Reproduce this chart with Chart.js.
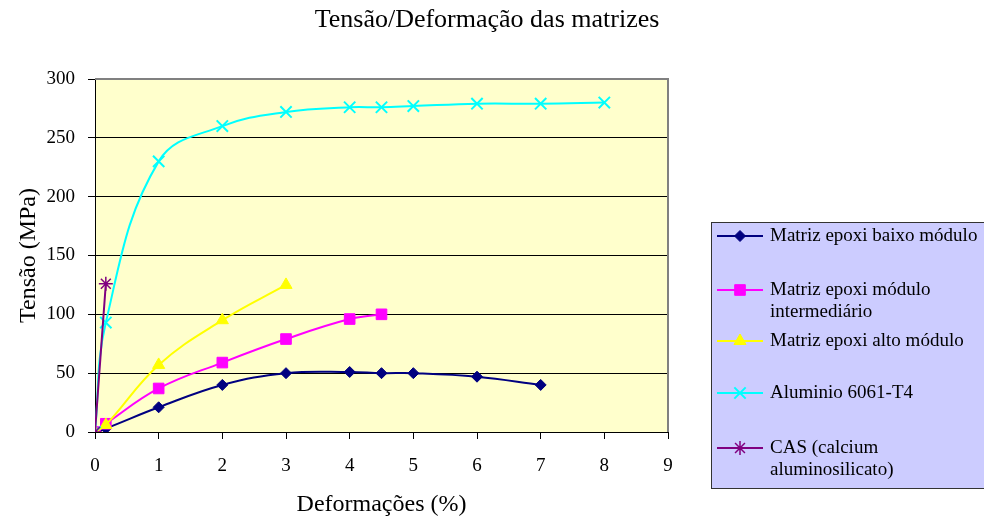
<!DOCTYPE html>
<html>
<head>
<meta charset="utf-8">
<script src="https://cdn.jsdelivr.net/npm/chart.js@4/dist/chart.umd.min.js"></script>
<style>
  html, body { margin: 0; padding: 0; background: #fff; }
  #wrap { width: 984px; height: 519px; position: relative; }
</style>
</head>
<body>
<div id="wrap"><canvas id="chart" width="984" height="519"></canvas></div>
<script>
const serif = "'Liberation Serif', 'Times New Roman', serif";

// data
const baixoX = [0, 0.17, 1, 2, 3, 4, 4.5, 5, 6, 7];
const baixoY = [0, 3, 21, 40, 50, 51, 50, 50, 47, 40];
const interX = [0, 0.17, 1, 2, 3, 4, 4.5];
const interY = [0, 7, 37, 59, 79, 96, 100];
const altoX = [0, 0.17, 1, 2, 3];
const altoY = [0, 6, 57, 95, 125];
const aluX = [0, 0.17, 1, 2, 3, 4, 4.5, 5, 6, 7, 8];
const aluY = [0, 93, 230, 260, 272, 276, 276, 277, 279, 279, 280];
const casX = [0, 0.17];
const casY = [0, 126];

const seriesNames = [
  ['Matriz epoxi baixo módulo'],
  ['Matriz epoxi módulo', 'intermediário'],
  ['Matriz epoxi alto módulo'],
  ['Aluminio 6061-T4'],
  ['CAS (calcium', 'aluminosilicato)']
];
const xTicks = [0, 1, 2, 3, 4, 5, 6, 7, 8, 9];
const yTicks = [0, 50, 100, 150, 200, 250, 300];

const toPts = (xs, ys) => xs.map((x, i) => ({ x: x, y: ys[i] }));

const styles = [
  { color: '#000080', style: 'rectRot', r: 5.5, bw: 1 },
  { color: '#FF00FF', style: 'rect', r: 7.5, bw: 1 },
  { color: '#FFFF00', style: 'triangle', r: 7, bw: 1 },
  { color: '#00FFFF', style: 'crossRot', r: 8, bw: 2 },
  { color: '#800080', style: 'star', r: 7, bw: 1.5 }
];
const allData = [toPts(baixoX, baixoY), toPts(interX, interY), toPts(altoX, altoY), toPts(aluX, aluY), toPts(casX, casY)];

const datasets = allData.map((d, i) => ({
  label: seriesNames[i].join(' '),
  data: d,
  borderColor: styles[i].color,
  backgroundColor: styles[i].color,
  borderWidth: 2,
  tension: 0.4,
  pointStyle: styles[i].style,
  pointRadius: styles[i].r,
  pointBorderWidth: styles[i].bw,
  pointBackgroundColor: styles[i].color,
  pointBorderColor: styles[i].color,
  order: 4 - i
}));

const decor = {
  id: 'decor',
  beforeDraw(chart) {
    const { ctx, chartArea: a } = chart;
    ctx.save();
    ctx.fillStyle = '#FFFFCC';
    ctx.fillRect(a.left, a.top, a.right - a.left, a.bottom - a.top);
    ctx.restore();
  },
  afterDraw(chart) {
    const { ctx, chartArea: a } = chart;
    ctx.save();
    // plot frame top/right
    ctx.strokeStyle = '#808080';
    ctx.lineWidth = 2;
    ctx.beginPath();
    ctx.moveTo(a.left, a.top);
    ctx.lineTo(a.right, a.top);
    ctx.lineTo(a.right, a.bottom);
    ctx.stroke();

    // title
    ctx.fillStyle = '#000';
    ctx.font = '26px ' + serif;
    ctx.textAlign = 'center';
    ctx.textBaseline = 'middle';
    ctx.fillText('Tensão/Deformação das matrizes', 487, 20);

    // legend
    ctx.fillStyle = '#CCCCFF';
    ctx.fillRect(711.5, 222.5, 300, 266);
    ctx.strokeStyle = '#333';
    ctx.lineWidth = 1;
    ctx.strokeRect(711.5, 222.5, 300, 266);
    const rows = [236, 290, 341, 393, 448];
    ctx.font = '19px ' + serif;
    ctx.textAlign = 'left';
    rows.forEach((y, i) => {
      const s = styles[i];
      ctx.strokeStyle = s.color;
      ctx.lineWidth = 2;
      ctx.beginPath();
      ctx.moveTo(717, y);
      ctx.lineTo(763, y);
      ctx.stroke();
      ctx.fillStyle = s.color;
      ctx.lineWidth = s.bw;
      if (Chart.helpers && Chart.helpers.drawPoint) {
        Chart.helpers.drawPoint(ctx, { pointStyle: s.style, radius: s.r, borderWidth: s.bw, rotation: 0 }, 740, y);
      }
      ctx.fillStyle = '#000';
      seriesNames[i].forEach((t, j) => ctx.fillText(t, 770, y + j * 22));
    });
    ctx.restore();
  }
};

new Chart(document.getElementById('chart'), {
  type: 'line',
  data: { datasets: datasets },
  plugins: [decor],
  options: {
    responsive: false,
    animation: false,
    layout: { padding: { left: 0, right: 316, top: 79, bottom: 0 } },
    plugins: {
      legend: { display: false },
      title: { display: false },
      tooltip: { enabled: false }
    },
    scales: {
      x: {
        type: 'linear',
        min: 0,
        max: 9,
        afterFit: s => { s.height = 87; },
        afterBuildTicks: s => { s.ticks = xTicks.map(v => ({ value: v })); },
        ticks: { color: '#000', font: { family: serif, size: 19 }, padding: 16 },
        grid: { drawOnChartArea: false, drawTicks: true, tickLength: 7, tickColor: '#000' },
        border: { color: '#000', width: 1 },
        title: { display: true, text: 'Deformações (%)', color: '#000', font: { family: serif, size: 24 }, padding: { top: 0, bottom: 0 } }
      },
      y: {
        min: 0,
        max: 300,
        afterFit: s => { s.width = 95; },
        afterBuildTicks: s => { s.ticks = yTicks.map(v => ({ value: v })); },
        ticks: { color: '#000', font: { family: serif, size: 19 }, padding: 13 },
        grid: {
          color: c => (c.tick && c.tick.value === 300) ? '#808080' : '#000',
          lineWidth: 1,
          tickLength: 7,
          tickColor: '#000'
        },
        border: { color: '#000', width: 1 },
        title: { display: true, text: 'Tensão (MPa)', color: '#000', font: { family: serif, size: 24 }, padding: { top: 14, bottom: 0 } }
      }
    }
  }
});
</script>
</body>
</html>
